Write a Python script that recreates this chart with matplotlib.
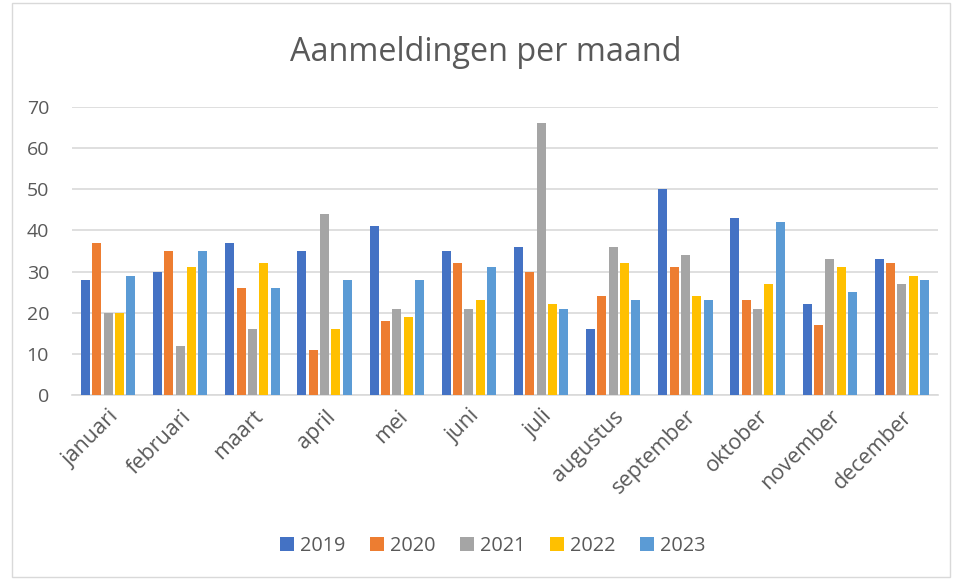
import matplotlib
matplotlib.use("Agg")
import matplotlib.pyplot as plt
import numpy as np
from matplotlib.patches import Rectangle

months = ["januari", "februari", "maart", "april", "mei", "juni", "juli",
          "augustus", "september", "oktober", "november", "december"]
years = ["2019", "2020", "2021", "2022", "2023"]
v2019 = [28, 30, 37, 35, 41, 35, 36, 16, 50, 43, 22, 33]
v2020 = [37, 35, 26, 11, 18, 32, 30, 24, 31, 23, 17, 32]
v2021 = [20, 12, 16, 44, 21, 21, 66, 36, 34, 21, 33, 27]
v2022 = [20, 31, 32, 16, 19, 23, 22, 32, 24, 27, 31, 29]
v2023 = [29, 35, 26, 28, 28, 31, 21, 23, 23, 42, 25, 28]
series = [v2019, v2020, v2021, v2022, v2023]
colors = ["#4472C4", "#ED7D31", "#A5A5A5", "#FFC000", "#5B9BD5"]

plt.rcParams['font.family'] = ['Open Sans', 'DejaVu Sans']
fig = plt.figure(figsize=(9.57, 5.79), dpi=100)
ax = fig.add_axes([0.0752, 0.3178, 0.905, 0.4974])

x = np.arange(len(months))
slot = 0.157
bw = 0.125
for i, (vals, c, lab) in enumerate(zip(series, colors, years)):
    ax.bar(x + (i - 2) * slot, vals, width=bw, color=c, label=lab, zorder=3)

ax.set_xlim(-0.5, len(months) - 0.5)
ax.set_ylim(0, 70)
ax.set_yticks(range(0, 71, 10))
ax.yaxis.grid(True, color="#D9D9D9", linewidth=1.2, zorder=0)
for s in ["top", "right", "left"]:
    ax.spines[s].set_visible(False)
ax.spines["bottom"].set_color("#D9D9D9")
ax.spines["bottom"].set_linewidth(1.2)
ax.tick_params(axis="y", length=0, labelsize=14, colors="#595959", pad=16.5)
ax.set_xticks(x)
ax.set_xticklabels(months, rotation=45, ha="right", rotation_mode="anchor")
ax.tick_params(axis="x", length=0, labelsize=15.5, colors="#595959", pad=8)

fig.text(0.508, 0.91, "Aanmeldingen per maand", ha="center", va="center",
         fontsize=23.3, color="#595959")

leg = fig.legend(loc="center", bbox_to_anchor=(0.515, 0.057), ncol=5, frameon=False,
                 fontsize=14.3, handlelength=0.7, handleheight=0.7, columnspacing=1.25,
                 handletextpad=0.3, labelcolor="#595959")

fig.patches.append(Rectangle((12/957, 2/579), 938/957, 574/579, transform=fig.transFigure,
                             fill=False, edgecolor="#D9D9D9", linewidth=1))

fig.savefig("out.png", dpi=100)
